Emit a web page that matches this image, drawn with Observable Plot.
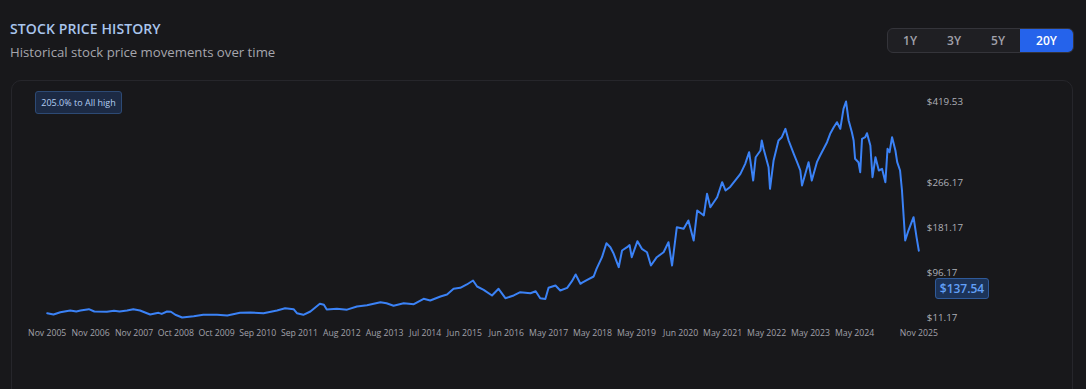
<!DOCTYPE html>
<html>
<head>
<meta charset="utf-8">
<script src="https://cdn.jsdelivr.net/npm/d3@7"></script>
<script src="https://cdn.jsdelivr.net/npm/@observablehq/plot@0.6"></script>
<style>
  html, body { margin: 0; padding: 0; }
  body { width: 1086px; height: 389px; overflow: hidden; background: #18181b; position: relative;
         font-family: "Open Sans", "Noto Sans", Lato, sans-serif; }
  .title { position: absolute; left: 10px; top: 19px; font-size: 14px; font-weight: 600; color: #a9c5ec; letter-spacing: 0.1px; }
  .subtitle { position: absolute; left: 10px; top: 43px; font-size: 13.2px; color: #a6a6ad; }
  .btns { position: absolute; left: 887px; top: 28px; width: 185px; height: 23px; border: 1px solid #34343a; border-radius: 6px;
          background: #1f1f23; display: flex; overflow: hidden; }
  .btns div { font-size: 12px; font-weight: 600; color: #a1a1aa; display: flex; align-items: center; justify-content: center; width: 44px; }
  .btns div.active { background: #2563eb; color: #ffffff; width: 53px; }
  .card { position: absolute; left: 11px; top: 80px; width: 1060px; height: 340px; border: 1px solid #26262b; border-radius: 10px; }
  .badge { position: absolute; left: 35px; top: 91px; width: 85px; height: 21px; border: 1px solid #2d4a75; border-radius: 3px;
           background: #1c2a44; color: #b3cdf2; font-size: 9px; line-height: 21px; text-align: center; }
  .price { position: absolute; left: 935px; top: 278px; width: 52px; height: 19px; border: 1px solid #2f5a9a; border-radius: 3px;
           background: #1c3358; color: #62a0f8; font-size: 12px; font-weight: 600; line-height: 19px; text-align: center; }
  #chart { position: absolute; left: 0; top: 0; }
</style>
</head>
<body>
<div class="title">STOCK PRICE HISTORY</div>
<div class="subtitle">Historical stock price movements over time</div>
<div class="btns"><div>1Y</div><div>3Y</div><div>5Y</div><div class="active">20Y</div></div>
<div class="card"></div>
<div id="chart"></div>
<div class="badge" id="badge"></div>
<div class="price" id="price"></div>
<script>
// ---- data ----
const dates = [
  "2005-11-18","2006-01-10","2006-03-08","2006-05-30","2006-07-20","2006-08-24","2006-11-02","2006-12-18",
  "2007-04-02","2007-06-01","2007-07-18","2007-09-18","2007-11-10","2008-01-05","2008-03-03","2008-03-30",
  "2008-06-08","2008-07-05","2008-08-18","2008-09-20","2008-10-27","2008-12-23","2009-03-30","2009-06-18",
  "2009-10-12","2010-01-05","2010-04-22","2010-07-18","2010-11-05","2011-02-26","2011-05-05","2011-07-15",
  "2011-08-12","2011-10-05","2011-12-03","2012-02-20","2012-03-25","2012-04-18","2012-07-12","2012-10-05",
  "2012-12-27","2013-03-21","2013-07-12","2013-09-01","2013-10-30","2014-01-23","2014-04-18","2014-07-09",
  "2014-09-02","2014-11-27","2015-01-21","2015-03-17","2015-05-12","2015-07-06","2015-08-27","2015-09-30",
  "2015-11-24","2016-02-02","2016-03-28","2016-05-24","2016-08-02","2016-09-26","2016-12-20","2017-02-02",
  "2017-03-12","2017-04-24","2017-05-21","2017-07-18","2017-08-27","2017-10-24","2017-12-03","2018-01-03",
  "2018-02-12","2018-02-27","2018-04-10","2018-06-03","2018-06-27","2018-08-12","2018-09-18","2018-10-21",
  "2018-11-18","2018-12-30","2019-01-27","2019-03-10","2019-03-31","2019-04-18","2019-06-05","2019-07-12",
  "2019-08-24","2019-09-26","2019-11-14","2020-01-10","2020-02-20","2020-03-21","2020-04-30","2020-06-26",
  "2020-08-05","2020-09-18","2020-10-18","2020-12-12","2021-01-08","2021-02-05","2021-04-03","2021-05-15",
  "2021-06-12","2021-07-21","2021-09-02","2021-10-15","2021-11-24","2021-12-27","2022-01-30","2022-02-20",
  "2022-04-01","2022-04-12","2022-04-27","2022-06-08","2022-06-20","2022-07-20","2022-08-30","2022-09-27",
  "2022-10-27","2022-11-23","2023-01-05","2023-02-02","2023-03-01","2023-03-15","2023-04-12","2023-05-09",
  "2023-06-05","2023-07-18","2023-08-14","2023-10-11","2023-11-06","2023-12-06","2024-01-02","2024-01-30",
  "2024-02-26","2024-03-18","2024-04-09","2024-05-06","2024-05-21","2024-06-02","2024-06-30","2024-07-15",
  "2024-07-30","2024-08-26","2024-09-10","2024-10-08","2024-10-26","2024-11-20","2024-12-18","2025-01-14",
  "2025-02-11","2025-03-01","2025-03-18","2025-04-08","2025-05-06","2025-05-21","2025-06-14","2025-06-30",
  "2025-07-27","2025-08-23","2025-10-05","2025-10-30","2025-11-18"
];
const prices = [
  19.3, 16.8, 21.2, 24.4, 22.5, 24.4, 26.9, 22.5,
  21.9, 24.0, 22.5, 24.5, 26.9, 24.4, 19.3, 16.8,
  20.0, 18.0, 22.5, 22.0, 16.3, 11.17, 13.6, 16.3,
  16.3, 15.0, 20.0, 20.6, 19.3, 24.4, 28.8, 26.9,
  19.3, 16.3, 22.5, 37.0, 35.2, 26.3, 27.6, 26.0,
  32.0, 34.4, 40.1, 38.0, 33.3, 38.2, 36.3, 46.5,
  43.3, 50.9, 54.7, 65.4, 67.3, 73.6, 81.1, 69.8,
  63.5, 52.8, 65.4, 47.7, 52.8, 59.0, 57.1, 60.9,
  47.7, 46.0, 67.3, 71.7, 62.2, 67.3, 79.8, 92.5,
  74.9, 77.0, 82.4, 88.7, 103.0, 125.2, 151.6, 144.1,
  131.6, 106.3, 137.8, 144.1, 148.0, 125.2, 155.4, 141.0,
  134.6, 109.5, 125.2, 134.6, 153.5, 109.5, 181.9, 178.9,
  194.6, 156.7, 213.5, 204.0, 245.0, 219.7, 238.6, 267.0,
  251.3, 258.0, 270.2, 282.8, 301.7, 323.7, 270.2, 314.2,
  326.9, 345.8, 330.1, 295.3, 254.5, 308.0, 345.8, 352.1,
  367.9, 345.8, 320.7, 304.8, 289.1, 260.7, 282.8, 304.8,
  270.2, 304.8, 317.5, 342.6, 358.5, 371.0, 380.4, 367.9,
  405.7, 419.53, 383.6, 361.5, 345.8, 311.2, 304.8, 285.9,
  349.0, 352.1, 359.6, 336.3, 276.4, 314.2, 289.1, 292.3,
  267.0, 330.1, 323.7, 352.1, 326.9, 304.8, 289.1, 251.3,
  156.7, 175.6, 200.8, 163.0, 137.54
];
const xTickDates = [
  "2005-11-18","2006-11-17","2007-11-16","2008-10-31","2009-10-08","2010-09-17","2011-09-02",
  "2012-08-22","2013-08-16","2014-07-23","2015-06-15","2016-06-01","2017-05-22","2018-05-24",
  "2019-05-28","2020-06-01","2021-05-19","2022-05-23","2023-05-25","2024-05-29","2025-11-18"
];
const yTicks = [11.17, 96.17, 181.17, 266.17, 419.53];

// ---- build ----
const parse = d3.utcParse("%Y-%m-%d");
const data = dates.map((d, i) => ({date: parse(d), price: prices[i]}));
const last = prices[prices.length - 1];
const high = d3.max(prices);
document.getElementById("badge").textContent = ((high / last - 1) * 100).toFixed(1) + "% to All high";
document.getElementById("price").textContent = "$" + last.toFixed(2);

const chart = Plot.plot({
  width: 1086,
  height: 389,
  marginLeft: 46.7,
  marginRight: 167.7,
  marginTop: 101,
  marginBottom: 72,
  style: {background: "transparent", color: "#a1a1aa", fontFamily: "'Open Sans', 'Noto Sans', sans-serif", fontSize: "8.7px"},
  x: {type: "utc", domain: d3.extent(data, d => d.date)},
  y: {domain: d3.extent(prices)},
  marks: [
    Plot.axisX({ticks: xTickDates.map(parse), tickFormat: d3.utcFormat("%b %Y"), tickSize: 0, tickPadding: 12, label: null, fill: "#a1a1aa", fontSize: 8.7}),
    Plot.axisY({anchor: "right", ticks: yTicks, tickFormat: d => "$" + d.toFixed(2), tickSize: 0, tickPadding: 8, label: null, fill: "#aeb0b8", fontSize: 9.8}),
    Plot.line(data, {x: "date", y: "price", stroke: "#3b82f6", strokeWidth: 2, strokeLinejoin: "round"})
  ]
});
document.getElementById("chart").appendChild(chart);
</script>
</body>
</html>
